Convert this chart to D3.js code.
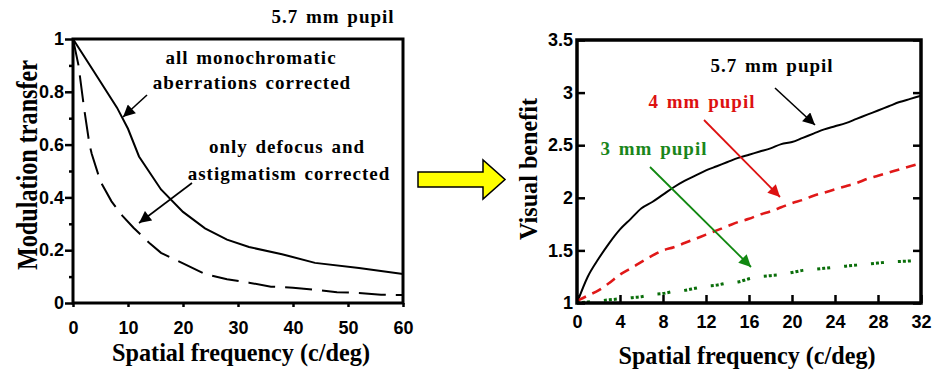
<!DOCTYPE html>
<html><head><meta charset="utf-8">
<script src="https://cdn.jsdelivr.net/npm/d3@7"></script>
<style>
body{margin:0;background:#fff;}
svg{display:block;}
.tk text{font-family:"Liberation Sans",Arial,sans-serif;font-weight:bold;font-size:18px;fill:#000;}
.tk line{stroke:#000;stroke-width:2.5;}
.tk path{display:none;}
.serif{font-family:"Liberation Serif","Times New Roman",serif;font-weight:bold;}
</style></head>
<body>
<script>
// ---------- data: left panel (MTF, 5.7 mm pupil) ----------
const mtfFreq      = [0, 4, 8, 10, 12, 16, 20, 24, 28, 32, 38, 44, 52, 60];
const mtfAllCorr   = [1, 0.87, 0.74, 0.66, 0.555, 0.43, 0.345, 0.283, 0.24, 0.212, 0.185, 0.152, 0.133, 0.11];
const mtfDefFreq   = [0, 1, 2, 3, 3.4, 5, 7, 9, 11, 12, 14, 16, 20, 24, 28, 32, 36, 40, 44, 48, 52, 56, 60];
const mtfDefAst    = [1, 0.9, 0.74, 0.6, 0.565, 0.46, 0.385, 0.33, 0.285, 0.265, 0.225, 0.19, 0.15, 0.11, 0.09, 0.077, 0.062, 0.058, 0.05, 0.041, 0.038, 0.031, 0.03];
const leftXTicks   = [0, 10, 20, 30, 40, 50, 60];
const leftYTicks   = [0, 0.2, 0.4, 0.6, 0.8, 1];
const leftYMinor   = [0.1, 0.3, 0.5, 0.7, 0.9];

// ---------- data: right panel (visual benefit) ----------
const vbFreq  = [0,1,2,3,4,5,6,7,8,9,10,11,12,13,14,15,16,17,18,19,20,21,22,23,24,25,26,27,28,29,30,31,32];
const vb57    = [1.0,1.25,1.42,1.57,1.7,1.8,1.9,1.96,2.03,2.1,2.16,2.21,2.26,2.3,2.34,2.38,2.41,2.44,2.47,2.51,2.53,2.57,2.61,2.65,2.68,2.71,2.75,2.79,2.83,2.87,2.91,2.94,2.97];
const vb4     = [1.02,1.07,1.12,1.19,1.27,1.33,1.39,1.45,1.5,1.53,1.57,1.61,1.65,1.69,1.73,1.77,1.8,1.84,1.87,1.91,1.95,1.98,2.02,2.05,2.08,2.11,2.14,2.18,2.21,2.24,2.27,2.3,2.33];
const vb3     = [1.0,1.01,1.02,1.03,1.04,1.05,1.06,1.08,1.09,1.11,1.12,1.14,1.16,1.17,1.19,1.2,1.23,1.25,1.26,1.27,1.29,1.31,1.32,1.33,1.34,1.35,1.36,1.37,1.38,1.39,1.395,1.4,1.42];
const rightXTicks = [0, 4, 8, 12, 16, 20, 24, 28, 32];
const rightYTicks = [1, 1.5, 2, 2.5, 3, 3.5];

const W = 933, H = 373;
const svg = d3.select("body").append("svg").attr("width", W).attr("height", H);

const defs = svg.append("defs");
[["mBlack","#000"],["mRed","#dd1111"],["mGreen","#118811"]].forEach(([id,c])=>{
  defs.append("marker").attr("id",id).attr("viewBox","0 0 10 10").attr("refX",10).attr("refY",5)
    .attr("markerWidth",13).attr("markerHeight",12).attr("markerUnits","userSpaceOnUse").attr("orient","auto")
    .append("path").attr("d","M0,0 L10,5 L0,10 Z").attr("fill",c);
});

function arrow(x1,y1,x2,y2,color,mk,w){
  svg.append("line").attr("x1",x1).attr("y1",y1).attr("x2",x2).attr("y2",y2)
    .attr("stroke",color).attr("stroke-width",w||1.6).attr("marker-end","url(#"+mk+")");
}
function label(txt,x,y,color,size,anchor){
  return svg.append("text").attr("class","serif").attr("x",x).attr("y",y)
    .attr("text-anchor",anchor||"middle").attr("font-size",size||19)
    .attr("letter-spacing",1).attr("word-spacing",2).attr("fill",color||"#000").text(txt);
}

// ================= LEFT PANEL =================
const xL = d3.scaleLinear().domain([0,60]).range([73,403]);
const yL = d3.scaleLinear().domain([0,1]).range([303,39]);

svg.append("g").attr("class","tk").attr("transform","translate(0,303)")
  .call(d3.axisBottom(xL).tickValues(leftXTicks).tickSize(4).tickPadding(14).tickFormat(d3.format("d")));
svg.append("g").attr("class","tk").attr("transform","translate(73,0)")
  .call(d3.axisLeft(yL).tickValues(leftYTicks).tickSize(8).tickPadding(1).tickFormat(d=>String(d)));
svg.append("g").attr("class","tk").attr("transform","translate(73,0)")
  .call(d3.axisLeft(yL).tickValues(leftYMinor).tickSize(4).tickFormat(""));

const lineL = d3.line().x(d=>xL(d[0])).y(d=>yL(d[1]));
svg.append("path").attr("d", lineL(mtfFreq.map((f,i)=>[f,mtfAllCorr[i]])))
  .attr("fill","none").attr("stroke","#000").attr("stroke-width",2);
svg.append("path").attr("d", lineL(mtfDefFreq.map((f,i)=>[f,mtfDefAst[i]])))
  .attr("fill","none").attr("stroke","#000").attr("stroke-width",2).attr("stroke-dasharray","27,10");

svg.append("rect").attr("x",xL(0)).attr("y",yL(1)).attr("width",xL(60)-xL(0)).attr("height",yL(0)-yL(1))
  .attr("fill","none").attr("stroke","#000").attr("stroke-width",3);

label("5.7 mm pupil",333,23);
label("all monochromatic",251,64);
label("aberrations corrected",252,89);
label("only defocus and",287,153);
label("astigmatism corrected",289,180);
arrow(147,95,123,117,"#000","mBlack",1.6);
arrow(192,183,139,223,"#000","mBlack",1.6);

svg.append("text").attr("class","serif").attr("font-size",30)
  .attr("transform","translate(37,165) rotate(-90)").attr("text-anchor","middle")
  .attr("textLength",210).attr("lengthAdjust","spacingAndGlyphs").text("Modulation transfer");
svg.append("text").attr("class","serif").attr("font-size",25).attr("x",241).attr("y",361)
  .attr("text-anchor","middle").attr("textLength",258).attr("lengthAdjust","spacingAndGlyphs")
  .text("Spatial frequency (c/deg)");

// ================= YELLOW ARROW =================
svg.append("path").attr("d","M418,172 L483,172 L483,160 L505,179.5 L483,199 L483,187 L418,187 Z")
  .attr("fill","#ffff00").attr("stroke","#000").attr("stroke-width",1.5);

// ================= RIGHT PANEL =================
const xR = d3.scaleLinear().domain([0,32]).range([577,921]);
const yR = d3.scaleLinear().domain([1,3.5]).range([303,40]);

svg.append("g").attr("class","tk").attr("transform","translate(0,303)")
  .call(d3.axisBottom(xR).tickValues(rightXTicks).tickSize(-8).tickPadding(12).tickFormat(d3.format("d")));
svg.append("g").attr("class","tk").attr("transform","translate(577,0)")
  .call(d3.axisLeft(yR).tickValues(rightYTicks).tickSize(-8).tickPadding(4).tickFormat(d=>String(d)));
svg.append("g").attr("class","tk").attr("transform","translate(921,0)")
  .call(d3.axisRight(yR).tickValues(rightYTicks).tickSize(-8).tickFormat(""));

const lineR = d3.line().x(d=>xR(d[0])).y(d=>yR(d[1])).curve(d3.curveMonotoneX);
svg.append("path").attr("d", lineR(vbFreq.map((f,i)=>[f,vb57[i]])))
  .attr("fill","none").attr("stroke","#000").attr("stroke-width",2);
svg.append("path").attr("d", lineR(vbFreq.map((f,i)=>[f,vb4[i]])))
  .attr("fill","none").attr("stroke","#e01818").attr("stroke-width",2.6).attr("stroke-dasharray","10,7");
svg.append("path").attr("d", lineR(vbFreq.map((f,i)=>[f,vb3[i]])))
  .attr("fill","none").attr("stroke","#0a6e0a").attr("stroke-width",3).attr("stroke-dasharray","3,2,3,2,3,14");

svg.append("rect").attr("x",xR(0)).attr("y",yR(3.5)).attr("width",xR(32)-xR(0)).attr("height",yR(1)-yR(3.5))
  .attr("fill","none").attr("stroke","#000").attr("stroke-width",3.5);

label("5.7 mm pupil",772,72,"#000");
label("4 mm pupil",702,108,"#dd1111");
label("3 mm pupil",654,155,"#1a861a");
arrow(775,88,815,125,"#000","mBlack",1.6);
arrow(704,120,780,197,"#dd1111","mRed",1.8);
arrow(650,167,751,267,"#118811","mGreen",1.8);

svg.append("text").attr("class","serif").attr("font-size",25)
  .attr("transform","translate(537,169) rotate(-90)").attr("text-anchor","middle")
  .attr("textLength",142).attr("lengthAdjust","spacingAndGlyphs").text("Visual benefit");
svg.append("text").attr("class","serif").attr("font-size",25).attr("x",747).attr("y",364)
  .attr("text-anchor","middle").attr("textLength",257).attr("lengthAdjust","spacingAndGlyphs")
  .text("Spatial frequency (c/deg)");
</script>
</body></html>
